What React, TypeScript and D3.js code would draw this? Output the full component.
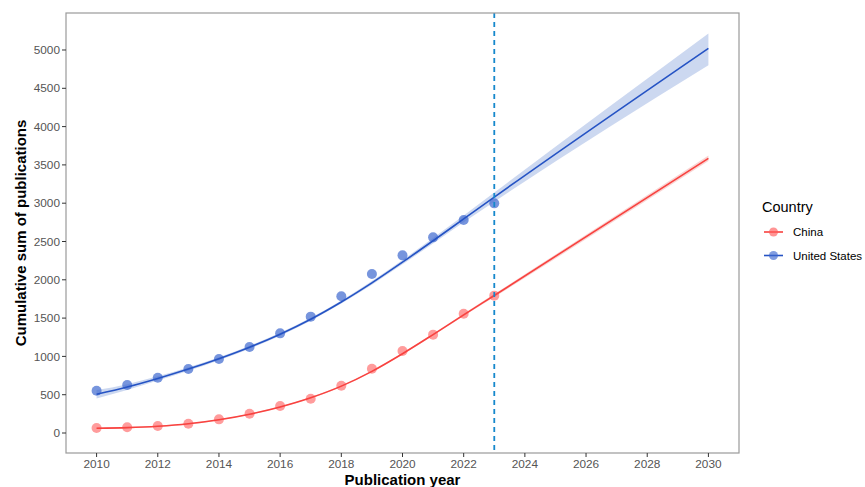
import React from "react";
import * as d3 from "d3";

const years = [2010, 2011, 2012, 2013, 2014, 2015, 2016, 2017, 2018, 2019, 2020, 2021, 2022, 2023];
const usValues = [552, 627, 722, 835, 966, 1123, 1301, 1519, 1785, 2076, 2319, 2554, 2781, 2998];
const chinaValues = [65, 74, 91, 122, 178, 252, 352, 448, 618, 840, 1071, 1284, 1558, 1793];

const fitYears = [2010, 2011, 2012, 2013, 2014, 2015, 2016, 2017, 2018, 2019, 2020, 2021, 2022, 2023, 2030];
const usFit = [505, 600, 712, 835, 970, 1120, 1290, 1485, 1710, 1960, 2230, 2510, 2795, 3080, 5022];
const usLow = [450, 562, 684, 812, 950, 1100, 1270, 1465, 1690, 1936, 2202, 2475, 2750, 3020, 4800];
const usHigh = [560, 638, 740, 858, 990, 1140, 1310, 1505, 1730, 1984, 2258, 2545, 2840, 3140, 5215];
const cnFit = [62, 70, 88, 120, 172, 245, 340, 460, 612, 805, 1035, 1285, 1542, 1795, 3586];
const cnLow = [52, 62, 80, 112, 164, 237, 332, 452, 604, 796, 1025, 1274, 1528, 1776, 3550];
const cnHigh = [72, 78, 96, 128, 180, 253, 348, 468, 620, 814, 1045, 1296, 1556, 1814, 3622];

const xTicks = [2010, 2012, 2014, 2016, 2018, 2020, 2022, 2024, 2026, 2028, 2030];
const yTicks = [0, 500, 1000, 1500, 2000, 2500, 3000, 3500, 4000, 4500, 5000];
const cutoffYear = 2023;
const legendLabels = ["China", "United States"];

const FONT = "'Liberation Sans', Arial, sans-serif";
const RED = "#f8423f";
const BLUE = "#2553c4";

export default function App() {
  const W = 865, H = 487;
  const left = 66, right = 739, top = 13, bottom = 453;
  const x = d3.scaleLinear().domain([2009, 2031]).range([left, right]);
  const y = d3.scaleLinear().domain([-261, 5483]).range([bottom, top]);

  const line = d3.line<number>().x((_, i) => x(fitYears[i])).y((d) => y(d)).curve(d3.curveMonotoneX);
  const band = (lo: number[], hi: number[]) =>
    d3.area<number>().x((_, i) => x(fitYears[i])).y0((_, i) => y(lo[i])).y1((_, i) => y(hi[i])).curve(d3.curveMonotoneX)(lo) || "";

  return (
    <svg width={W} height={H} style={{ position: "absolute", left: 0, top: 0, background: "#fff" }}>
      <rect x={0} y={0} width={W} height={H} fill="#fff" />
      <path d={band(usLow, usHigh)} fill="#b7c7ea" opacity={0.7} />
      <path d={band(cnLow, cnHigh)} fill="#f7c2c0" opacity={0.7} />
      {years.map((yr, i) => (
        <circle key={"c" + yr} cx={x(yr)} cy={y(chinaValues[i])} r={5} fill="#ff5a5a" opacity={0.6} />
      ))}
      {years.map((yr, i) => (
        <circle key={"u" + yr} cx={x(yr)} cy={y(usValues[i])} r={5} fill="#3d68cf" opacity={0.7} />
      ))}
      <path d={line(cnFit) || ""} fill="none" stroke={RED} strokeWidth={1.6} />
      <path d={line(usFit) || ""} fill="none" stroke={BLUE} strokeWidth={1.6} />
      <line x1={x(cutoffYear)} x2={x(cutoffYear)} y1={top} y2={bottom} stroke="#1688cc" strokeWidth={1.8} strokeDasharray="5,4" />
      <rect x={left} y={top} width={right - left} height={bottom - top} fill="none" stroke="#9a9a9a" strokeWidth={1.2} />
      {yTicks.map((t) => (
        <g key={"y" + t}>
          <line x1={left - 4} x2={left} y1={y(t)} y2={y(t)} stroke="#333" strokeWidth={1} />
          <text x={left - 6} y={y(t)} dy="0.35em" textAnchor="end" fontFamily={FONT} fontSize={11.8} fill="#555">{t}</text>
        </g>
      ))}
      {xTicks.map((t) => (
        <g key={"x" + t}>
          <line x1={x(t)} x2={x(t)} y1={bottom} y2={bottom + 4} stroke="#333" strokeWidth={1} />
          <text x={x(t)} y={bottom + 15} textAnchor="middle" fontFamily={FONT} fontSize={11.8} fill="#555">{t}</text>
        </g>
      ))}
      <text x={(left + right) / 2} y={485} textAnchor="middle" fontFamily={FONT} fontSize={15} fontWeight="bold" fill="#000">Publication year</text>
      <text transform={`translate(26,${(top + bottom) / 2}) rotate(-90)`} textAnchor="middle" fontFamily={FONT} fontSize={15} fontWeight="bold" fill="#000">Cumulative sum of publications</text>
      <text x={762} y={212} fontFamily={FONT} fontSize={14.5} fill="#000">Country</text>
      {legendLabels.map((lab, i) => {
        const cy = 232 + i * 23.5;
        const col = i === 0 ? RED : BLUE;
        const pc = i === 0 ? "#ff5a5a" : "#3d68cf";
        return (
          <g key={lab}>
            <line x1={764} x2={783} y1={cy} y2={cy} stroke={col} strokeWidth={1.6} />
            <circle cx={773.5} cy={cy} r={4.5} fill={pc} opacity={0.65} />
            <text x={793} y={cy} dy="0.35em" fontFamily={FONT} fontSize={11.5} fill="#000">{lab}</text>
          </g>
        );
      })}
    </svg>
  );
}
